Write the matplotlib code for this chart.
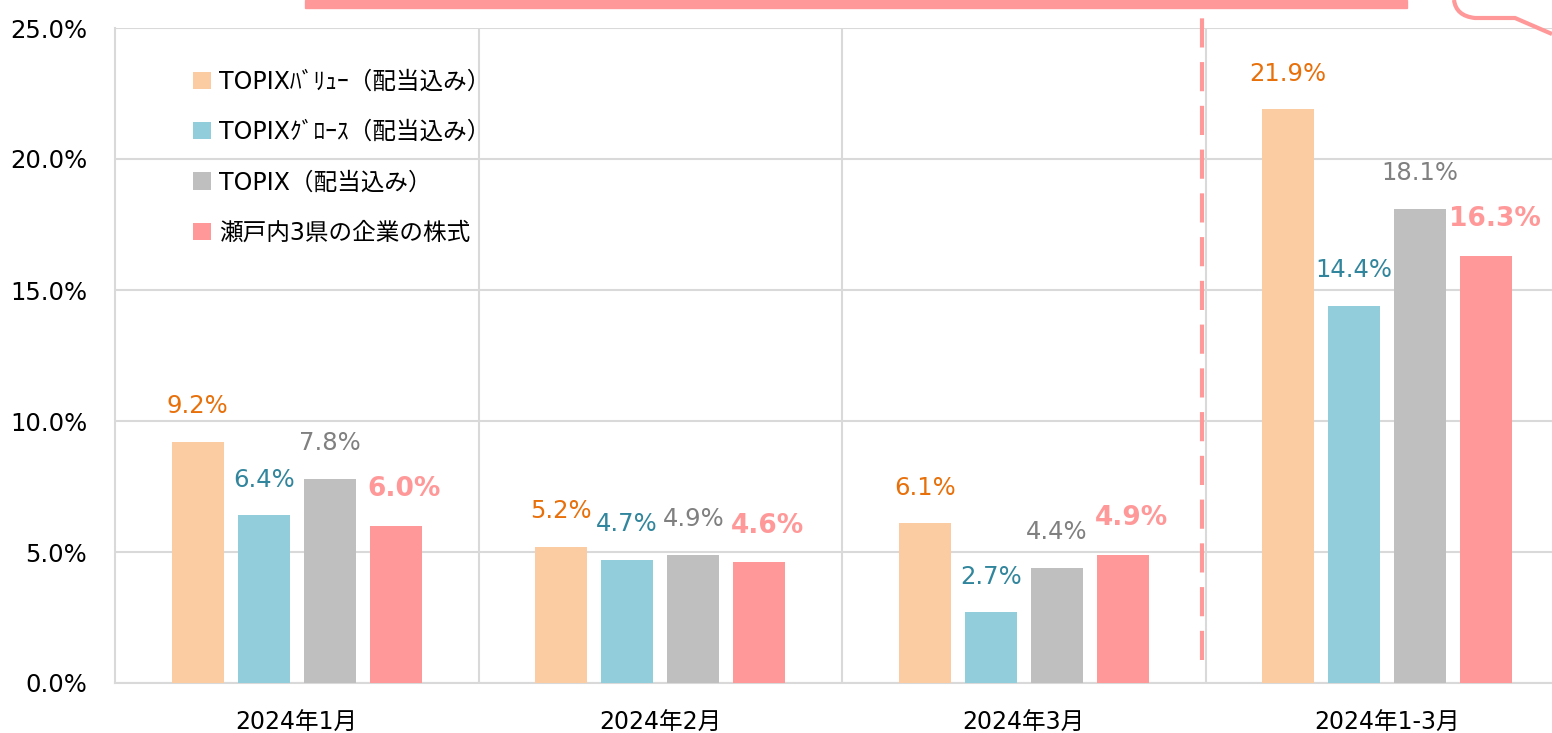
import matplotlib
matplotlib.use("Agg")
import matplotlib.pyplot as plt
from matplotlib.patches import Rectangle
from matplotlib.path import Path
from matplotlib.patches import PathPatch
import numpy as np

plt.rcParams['font.family'] = ['DejaVu Sans', 'Noto Sans CJK JP']

categories = ["2024年1月", "2024年2月", "2024年3月", "2024年1-3月"]
series_names = ["TOPIXﾊﾞﾘｭｰ（配当込み）", "TOPIXｸﾞﾛｰｽ（配当込み）", "TOPIX（配当込み）", "瀬戸内3県の企業の株式"]
value_vals = [9.2, 5.2, 6.1, 21.9]
growth_vals = [6.4, 4.7, 2.7, 14.4]
topix_vals = [7.8, 4.9, 4.4, 18.1]
setouchi_vals = [6.0, 4.6, 4.9, 16.3]
yticks = [0, 5, 10, 15, 20, 25]

series = [value_vals, growth_vals, topix_vals, setouchi_vals]
bar_colors = ["#FBCBA2", "#92CDDC", "#BFBFBF", "#FF9999"]
label_colors = ["#E8700A", "#31859C", "#808080", "#FF9999"]

W, H = 1552, 733
fig = plt.figure(figsize=(W / 100, H / 100), dpi=100)
left, right, top, bottom = 115, 1569, 28, 683
ax = fig.add_axes([left / W, 1 - bottom / H, (right - left) / W, (bottom - top) / H])

n = len(categories)
centers = np.arange(n) + 0.5
step = 0.1816
width = 0.143
offsets = (np.arange(4) - 1.5) * step

handles = []
for i, vals in enumerate(series):
    b = ax.bar(centers + offsets[i], vals, width=width, color=bar_colors[i],
               label=series_names[i], zorder=3)
    handles.append(b)
    for x, v in zip(centers + offsets[i], vals):
        bold = (i == 3)
        ax.annotate(f"{v:.1f}%", (x, v), xytext=(6 if bold else 0, 17),
                    textcoords="offset points", ha="center", va="bottom",
                    color=label_colors[i], fontsize=19 if bold else 17.5,
                    fontweight="bold" if bold else "normal", zorder=5)

ax.set_xlim(0, n)
ax.set_ylim(0, 25)
ax.set_yticks(yticks)
ax.set_yticklabels([f"{t:.1f}%" for t in yticks], fontsize=17.5)
ax.set_xticks(centers)
ax.set_xticklabels(categories, fontsize=17)
ax.set_xticks(np.arange(1, n), minor=True)
ax.tick_params(axis="both", which="both", length=0)
ax.tick_params(axis="y", pad=20)
ax.tick_params(axis="x", pad=20)
ax.grid(axis="y", which="major", color="#D9D9D9", linewidth=1.5, zorder=0)
ax.grid(axis="x", which="minor", color="#D9D9D9", linewidth=1.5, zorder=0)
ax.grid(axis="x", which="major", visible=False)
for s in ["top", "right"]:
    ax.spines[s].set_visible(False)
for s in ["left", "bottom"]:
    ax.spines[s].set_color("#D9D9D9")
    ax.spines[s].set_linewidth(1.5)

# dashed separator line
fx = 1202 / W
fig.add_artist(plt.Line2D([fx, fx], [1 - 660 / H, 1.0], transform=fig.transFigure,
                          color="#FF9999", linewidth=3, linestyle=(0, (7, 3.5)), zorder=6))

# top banner (cropped)
fig.add_artist(Rectangle((305 / W, 1 - 8 / H), (1407 - 305) / W, 8 / H,
                         transform=fig.transFigure, color="#FF9999", zorder=6))
# curved callout edge (cropped)
verts = [(1454, 0), (1456, 16), (1475, 18), (1515, 18), (1552, 34)]
codes = [Path.MOVETO, Path.CURVE3, Path.CURVE3, Path.LINETO, Path.LINETO]
verts_f = [(x / W, 1 - y / H) for x, y in verts]
fig.add_artist(PathPatch(Path(verts_f, codes), transform=fig.transFigure,
                         fill=False, edgecolor="#FF9999", linewidth=3, zorder=6))

leg = ax.legend(handles=handles, loc="upper left",
                bbox_to_anchor=(184 / W, 1 - 60 / H), bbox_transform=fig.transFigure,
                frameon=False, fontsize=17, handlelength=0.75, handleheight=0.75,
                handletextpad=0.35, labelspacing=1.12, borderaxespad=0)

fig.savefig("out.png", dpi=100)
